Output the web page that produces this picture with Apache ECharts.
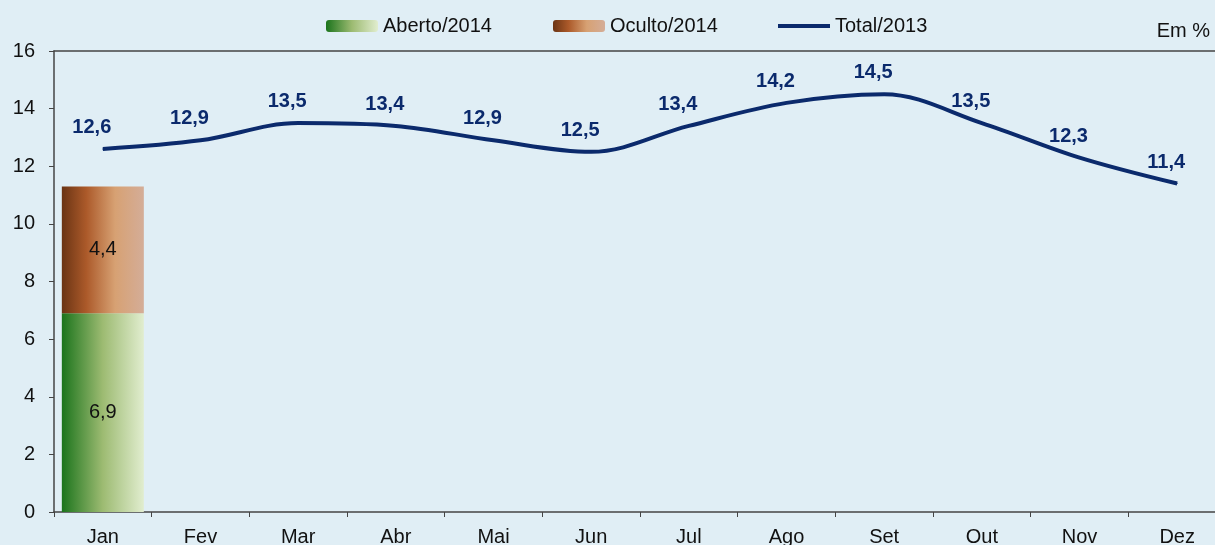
<!DOCTYPE html>
<html>
<head>
<meta charset="utf-8">
<script src="https://cdn.jsdelivr.net/npm/echarts@6/dist/echarts.min.js"></script>
<style>
  html, body { margin: 0; padding: 0; background: #e0eef5; }
  #chart { width: 1215px; height: 545px; }
</style>
</head>
<body>
<div id="chart"></div>
<script>
const months = ["Jan", "Fev", "Mar", "Abr", "Mai", "Jun", "Jul", "Ago", "Set", "Out", "Nov", "Dez"];
const aberto2014 = [6.9, null, null, null, null, null, null, null, null, null, null, null];
const oculto2014 = [4.4, null, null, null, null, null, null, null, null, null, null, null];
const total2013 = [12.6, 12.9, 13.5, 13.4, 12.9, 12.5, 13.4, 14.2, 14.5, 13.5, 12.3, 11.4];
const yTicks = [0, 16, 2];

const fmt = (p) => String(p.value).replace(".", ",");
const font = "Liberation Sans, Arial, sans-serif";
const navy = "#0b2a6c";

const chart = echarts.init(document.getElementById("chart"));

const greenFill = new echarts.graphic.LinearGradient(0, 0, 1, 0, [
  { offset: 0, color: "#1b741c" },
  { offset: 0.5, color: "#9dbb72" },
  { offset: 1, color: "#e1edcf" },
]);
const brownFill = new echarts.graphic.LinearGradient(0, 0, 1, 0, [
  { offset: 0, color: "#6a3414" },
  { offset: 0.3, color: "#ac5a2a" },
  { offset: 0.65, color: "#d7a173" },
  { offset: 1, color: "#d4ad98" },
]);

const legendText = { fontSize: 20, color: "#111", fontFamily: font };
const legendBase = { top: 16, itemWidth: 52, itemHeight: 12, itemGap: 0, textStyle: legendText, padding: 0 };

chart.setOption({
  backgroundColor: "#e0eef5",
  textStyle: { fontFamily: font },
  legend: [
    Object.assign({ left: 326, data: ["Aberto/2014"] }, legendBase),
    Object.assign({ left: 553, data: ["Oculto/2014"] }, legendBase),
    Object.assign({ left: 778, data: [{ name: "Total/2013", icon: "path://M0,0 H52 V4 H0 Z" }] }, legendBase),
  ],
  graphic: [
    {
      type: "text",
      right: 5,
      top: 21,
      style: { text: "Em %", fontSize: 20, fill: "#111", fontFamily: font },
    },
  ],
  grid: { left: 54, top: 51, right: -11, bottom: 33, containLabel: false, outerBoundsMode: "none" },
  xAxis: [
    {
      type: "category",
      data: months,
      axisLine: { lineStyle: { color: "#444", width: 1.5 } },
      axisTick: { show: true, length: 5, lineStyle: { color: "#444" } },
      axisLabel: { fontSize: 20, color: "#111", margin: 15, fontFamily: font },
    },
    {
      type: "category",
      position: "top",
      data: months,
      axisLine: { show: true, lineStyle: { color: "#444", width: 1.5 } },
      axisTick: { show: false },
      axisLabel: { show: false },
    },
  ],
  yAxis: {
    type: "value",
    min: yTicks[0],
    max: yTicks[1],
    interval: yTicks[2],
    axisLine: { show: true, lineStyle: { color: "#444", width: 1.5 } },
    axisTick: { show: true, length: 5, lineStyle: { color: "#444" } },
    axisLabel: { fontSize: 20, color: "#111", margin: 19, fontFamily: font },
    splitLine: { show: false },
  },
  series: [
    {
      name: "Aberto/2014",
      type: "bar",
      stack: "2014",
      barWidth: 82,
      data: aberto2014,
      itemStyle: { color: greenFill },
      label: { show: true, position: "inside", formatter: fmt, fontSize: 20, color: "#111", fontFamily: font },
    },
    {
      name: "Oculto/2014",
      type: "bar",
      stack: "2014",
      barWidth: 82,
      data: oculto2014,
      itemStyle: { color: brownFill },
      label: { show: true, position: "inside", formatter: fmt, fontSize: 20, color: "#111", fontFamily: font },
    },
    {
      name: "Total/2013",
      type: "line",
      data: total2013,
      smooth: 0.35,
      symbol: "circle",
      symbolSize: 1,
      lineStyle: { color: navy, width: 4 },
      itemStyle: { color: navy },
      label: {
        show: true,
        position: "top",
        distance: 11,
        offset: [-11, 0],
        formatter: fmt,
        fontSize: 20,
        fontWeight: "bold",
        color: navy,
        fontFamily: font,
      },
    },
  ],
});
</script>
</body>
</html>
